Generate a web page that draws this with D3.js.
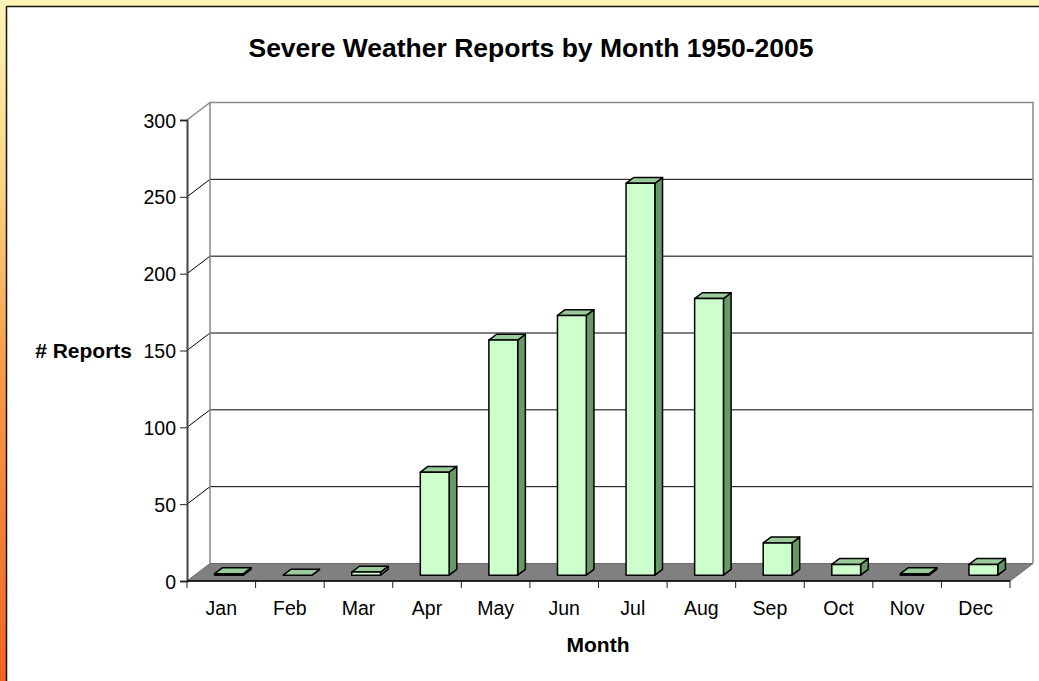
<!DOCTYPE html>
<html>
<head>
<meta charset="utf-8">
<script src="https://cdn.jsdelivr.net/npm/d3@7"></script>
<style>
  html, body { margin: 0; padding: 0; background: #fff; }
  svg { display: block; font-family: Arial, "Liberation Sans", sans-serif; }
</style>
</head>
<body>
<svg id="chart" width="1039" height="681"></svg>
<script>
const months = ["Jan", "Feb", "Mar", "Apr", "May", "Jun", "Jul", "Aug", "Sep", "Oct", "Nov", "Dec"];
const reports = [1, 0, 2, 67, 153, 169, 255, 180, 21, 7, 1, 7];
const yTicks = [0, 50, 100, 150, 200, 250, 300];

const svg = d3.select("#chart");
const W = 1039, H = 681;

// background frame gradient
const defs = svg.append("defs");
const grad = defs.append("linearGradient")
  .attr("id", "frame").attr("x1", 0).attr("y1", 0).attr("x2", 0).attr("y2", 1);
[["0", "#fff4b6"], ["0.25", "#fbd886"], ["0.55", "#f69a48"], ["1", "#f16522"]]
  .forEach(([o, c]) => grad.append("stop").attr("offset", o).attr("stop-color", c));

svg.append("rect").attr("width", W).attr("height", H).attr("fill", "url(#frame)");
svg.append("rect").attr("x", 7).attr("y", 7).attr("width", W - 7).attr("height", H - 7).attr("fill", "#fff");
svg.append("line").attr("x1", 6.5).attr("y1", 6.5).attr("x2", W).attr("y2", 6.5).attr("stroke", "#111").attr("stroke-width", 1.5);
svg.append("line").attr("x1", 6.5).attr("y1", 6.5).attr("x2", 6.5).attr("y2", H).attr("stroke", "#111").attr("stroke-width", 1.5);

// scales
const x = d3.scaleBand().domain(months).range([187, 1010]).padding(0);
const y = d3.scaleLinear().domain([0, 300]).range([581, 120]);
const DX = 23, DY = -17.5;          // depth of the 3d box
const bw = x.bandwidth() * 0.42;    // bar width
const bdx = DX / 3, bdy = DY / 3;   // bar depth

const x0 = x.range()[0], x1 = x.range()[1];
const yTop = y(300), yBot = y(0);

// floor
svg.append("polygon")
  .attr("points", [[x0, yBot], [x1, yBot], [x1 + DX, yBot + DY], [x0 + DX, yBot + DY]].join(" "))
  .attr("fill", "#808080").attr("stroke", "#6a6a6a").attr("stroke-width", 1);

// gridlines on back wall and left wall
yTicks.filter(t => t > 0 && t < 300).forEach(t => {
  svg.append("line")
    .attr("x1", x0 + DX).attr("x2", x1 + DX)
    .attr("y1", y(t) + DY).attr("y2", y(t) + DY)
    .attr("stroke", "#000").attr("stroke-width", 1);
});
yTicks.filter(t => t > 0).forEach(t => {
  svg.append("line")
    .attr("x1", x0).attr("y1", y(t))
    .attr("x2", x0 + DX).attr("y2", y(t) + DY)
    .attr("stroke", t === 300 ? "#888" : "#000").attr("stroke-width", t === 300 ? 1.5 : 1);
});

// back wall border
svg.append("path")
  .attr("d", `M${x0 + DX},${yBot + DY} V${yTop + DY} H${x1 + DX} V${yBot + DY}`)
  .attr("fill", "none").attr("stroke", "#888").attr("stroke-width", 1.5);

// bars
const bars = svg.append("g");
months.forEach((m, i) => {
  const v = reports[i];
  const cx = x(m) + x.bandwidth() / 2 + bdx;
  const l = cx - bw / 2, r = cx + bw / 2;
  const yb = y(0) + bdy, yt = y(v) + bdy;
  const g = bars.append("g").attr("stroke", "#000").attr("stroke-width", 1.5).attr("stroke-linejoin", "round");
  g.append("polygon")
    .attr("points", [[r, yt], [r + bdx, yt + bdy], [r + bdx, yb + bdy], [r, yb]].join(" "))
    .attr("fill", "#669966");
  g.append("polygon")
    .attr("points", [[l, yt], [r, yt], [r + bdx, yt + bdy], [l + bdx, yt + bdy]].join(" "))
    .attr("fill", "#99cc99");
  g.append("rect")
    .attr("x", l).attr("y", yt).attr("width", bw).attr("height", yb - yt)
    .attr("fill", "#ccffcc");
});

// y axis
const yAxis = svg.append("g")
  .attr("transform", `translate(${x0},0)`)
  .call(d3.axisLeft(y).tickValues(yTicks).tickSize(7).tickPadding(4));
yAxis.select(".domain").attr("stroke", "#444").attr("stroke-width", 2);
yAxis.selectAll(".tick line").attr("stroke", "#222");
yAxis.selectAll(".tick text").attr("fill", "#000").style("font-size", "19.5px")
  .style("font-family", "Arial, 'Liberation Sans', sans-serif").attr("dy", "0.36em");

// x axis
svg.append("line").attr("x1", x0).attr("x2", x1).attr("y1", yBot).attr("y2", yBot)
  .attr("stroke", "#000").attr("stroke-width", 1.5);
months.concat(["end"]).forEach((m, i) => {
  const tx = i < months.length ? x(m) : x1;
  svg.append("line").attr("x1", tx).attr("x2", tx).attr("y1", yBot).attr("y2", yBot + 7)
    .attr("stroke", "#222").attr("stroke-width", 1);
});
svg.append("g").selectAll("text").data(months).join("text")
  .attr("x", d => x(d) + x.bandwidth() / 2)
  .attr("y", 615)
  .attr("text-anchor", "middle")
  .style("font-size", "19.5px")
  .text(d => d);

// titles
svg.append("text").attr("x", 531).attr("y", 57).attr("text-anchor", "middle")
  .style("font-size", "26.5px").style("font-weight", "bold")
  .text("Severe Weather Reports by Month 1950-2005");
svg.append("text").attr("x", 132).attr("y", 358).attr("text-anchor", "end")
  .style("font-size", "21px").style("font-weight", "bold")
  .text("# Reports");
svg.append("text").attr("x", 598).attr("y", 652).attr("text-anchor", "middle")
  .style("font-size", "21px").style("font-weight", "bold")
  .text("Month");
</script>
</body>
</html>
